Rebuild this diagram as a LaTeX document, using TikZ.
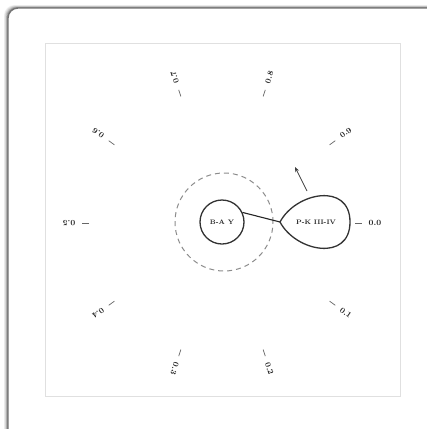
\documentclass[tikz,border=0pt]{standalone}
\usetikzlibrary{arrows.meta,calc}
\begin{document}
\begin{tikzpicture}[x=1pt,y=1pt,
  tick/.style={draw=black!60, line width=0.7pt},
  ticklabel/.style={font=\fontsize{8}{9}\selectfont\bfseries, text=black!85, inner sep=0pt},
  ring/.style={draw=black!80, line width=1.3pt},
  innertext/.style={font=\fontsize{6.5}{7}\selectfont\bfseries, text=black!85, inner sep=0pt}]
\useasboundingbox (0,0) rectangle (427,-429);
% outer card with shadow
\foreach \o/\c in {5/black!6, 4/black!12, 3/black!20, 2/black!30, 1/black!42}{
  \draw[\c, line width=1pt, rounded corners=10pt] (8-\o*0.7,-8+\o*0.5) rectangle (445,-445);
}
\draw[black!55, line width=1.4pt, rounded corners=10pt, fill=white] (8,-8) rectangle (445,-445);
% inner frame
\draw[black!12, line width=0.5pt] (45,-43) rectangle (400,-396);
% dial
\coordinate (c) at (222,-223);
\foreach \a/\t in {0/0.0, -36/0.1, -72/0.2, -108/0.3, -144/0.4, 180/0.5, 144/0.6, 108/0.7, 72/0.8, 36/0.9}{
  \draw[tick] ($(c)+(\a:133)$) -- ($(c)+(\a:140)$);
  \node[ticklabel, rotate=\a] (lab\a) at ($(c)+(\a:153)$) {\t};
}
% dashed circle
\node[draw=black!45, dashed, dash pattern=on 5pt off 4pt, line width=1pt, circle, minimum size=98pt, inner sep=0pt] (dash) at (224,-222) {};
% small circle
\node[ring, circle, minimum size=44pt, inner sep=0pt, innertext] (ba) at (222,-222) {B-A Y};
% teardrop
\coordinate (cusp) at (280,-222);
\draw[ring] (cusp) .. controls (296,-192) and (350,-182) .. (350,-222) .. controls (350,-262) and (296,-252) .. (cusp);
\node[innertext] (pk) at (316,-222) {P-K III-IV};
% connector
\draw[black!85, line width=1.1pt] (ba.25) -- (cusp);
% arrow
\coordinate (as) at (307,-191);
\coordinate (ae) at (295,-167);
\draw[black!75, line width=0.8pt, -{Stealth[length=5pt,width=4pt]}] (as) -- (ae);
\end{tikzpicture}
\end{document}
